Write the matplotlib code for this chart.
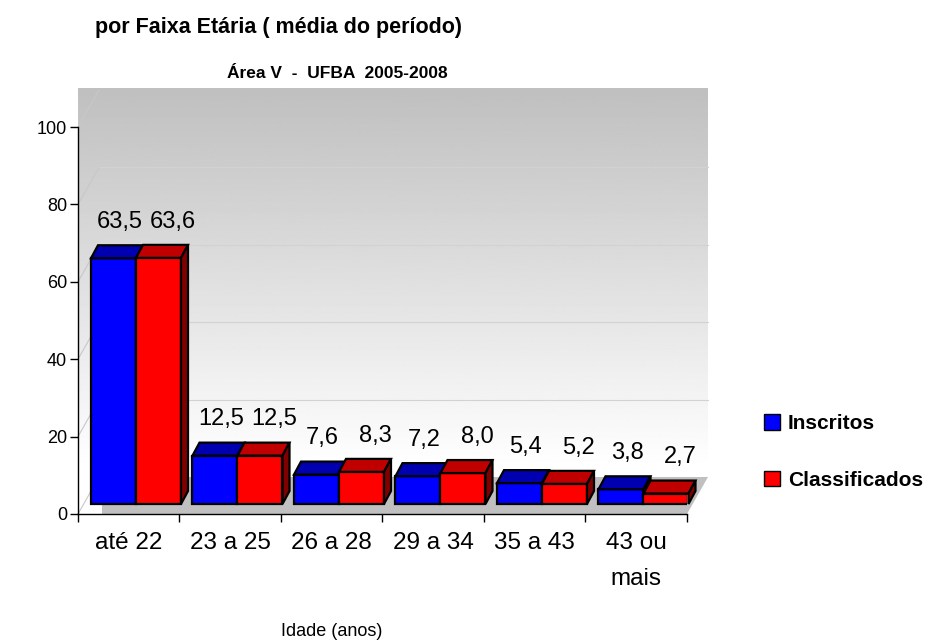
import numpy as np
import matplotlib.pyplot as plt
from matplotlib.patches import Polygon, Patch

plt.rcParams['font.family'] = ['Liberation Sans', 'DejaVu Sans']

# dados (média do período)
categorias = ['até 22', '23 a 25', '26 a 28', '29 a 34', '35 a 43', '43 ou\nmais']
inscritos = [63.5, 12.5, 7.6, 7.2, 5.4, 3.8]
classificados = [63.6, 12.5, 8.3, 8.0, 5.2, 2.7]
yticks = [0, 20, 40, 60, 80, 100]

fig = plt.figure(figsize=(9.29, 6.43), dpi=100)
ax = fig.add_axes([78/929, 129/643, 609/929, 387/643])
ax.set_xlim(0, 6)
ax.set_ylim(0, 100)
ax.patch.set_facecolor('none')

# conversao pixel -> unidades do grafico (efeito 3D)
ux = 6/609
uy = 100/387
DX, DY = 21*ux, 37*uy        # profundidade das paredes
ddx, ddy = 7*ux, 13*uy       # profundidade das barras
base = 10*uy                 # barras no meio do piso
xoff = 13*ux
w = 45*ux

# parede com degrade
ys = np.linspace(100+DY, 0, 300)
g = np.clip(0.75 + 0.25*(100+DY-ys)/(100+DY-12), 0, 1).reshape(-1, 1)
ax.imshow(g, cmap='gray', vmin=0, vmax=1, extent=[0, 6+DX, 0, 100+DY+0.5],
          aspect='auto', origin='upper', zorder=0, clip_on=False, interpolation='bilinear')

# piso
ax.add_patch(Polygon([(24*ux, 0), (6, 0), (6+DX, DY), (24*ux, DY)], closed=True,
                     fc='#c0c0c0', ec='none', zorder=0.5, clip_on=False))

# linhas de grade
for v in yticks:
    ax.plot([0, DX], [v, v+DY], color='#c8c8c8', lw=0.8, zorder=0.6, clip_on=False)
    if 0 < v < 100:
        ax.plot([DX, 6+DX], [v+DY, v+DY], color='#d2d2d2', lw=0.8, zorder=0.6, clip_on=False)

series = [(inscritos, '#0000ff', '#0000b0', '#000080', 0.06),
          (classificados, '#ff0000', '#c00000', '#800000', 0.14)]

for s, (vals, cor, topo, lado, dlab) in enumerate(series):
    xs = np.arange(len(vals)) + xoff + s*w
    bars = ax.bar(xs, vals, width=w, bottom=base, align='edge', color=cor,
                  edgecolor='black', linewidth=1.6)
    for i, (b, v) in enumerate(zip(bars, vals)):
        z = 3 + i + s*0.5
        b.set_zorder(z)
        x0 = b.get_x()
        y1 = base + v
        ax.add_patch(Polygon([(x0, y1), (x0+w, y1), (x0+w+ddx, y1+ddy), (x0+ddx, y1+ddy)],
                             closed=True, fc=topo, ec='black', lw=1.6, zorder=z, clip_on=False))
        ax.add_patch(Polygon([(x0+w, base), (x0+w, y1), (x0+w+ddx, y1+ddy), (x0+w+ddx, base+ddy)],
                             closed=True, fc=lado, ec='black', lw=1.6, zorder=z, clip_on=False))
        ax.text(x0 + w/2 + dlab, y1 + ddy + 6.0, f'{v:.1f}'.replace('.', ','),
                ha='center', va='center', fontsize=17, zorder=20)

# eixos
for sp in ['top', 'right']:
    ax.spines[sp].set_visible(False)
for sp in ['left', 'bottom']:
    ax.spines[sp].set_linewidth(1)
    ax.spines[sp].set_zorder(2)
ax.set_yticks(yticks)
ax.tick_params(axis='y', length=6, width=1, pad=2, labelsize=13)
ax.set_xticks(range(7))
ax.set_xticklabels([])
ax.set_xticks(np.arange(6) + 0.5, minor=True)
ax.set_xticklabels(categorias, minor=True)
ax.tick_params(axis='x', which='major', length=6, width=1)
ax.tick_params(axis='x', which='minor', length=0, pad=13, labelsize=17.5)
for t in ax.get_xticklabels(minor=True):
    t.set_linespacing(1.8)
    t.set_verticalalignment('top')

fig.text(332/929, 1-631/643, 'Idade (anos)', ha='center', va='center', fontsize=13)
fig.text(95/929, 1-28/643, 'por Faixa Etária ( média do período)', ha='left', va='center',
         fontsize=15.5, fontweight='bold')
fig.text(337/929, 1-73/643, 'Área V  -  UFBA  2005-2008', ha='center', va='center',
         fontsize=12.5, fontweight='bold')

handles = [Patch(fc='#0000ff', ec='black'), Patch(fc='#ff0000', ec='black')]
fig.legend(handles, ['Inscritos', 'Classificados'], loc='center left',
           bbox_to_anchor=(745/929, 1-452/643), frameon=False,
           prop=dict(weight='bold', size=15), handlelength=0.77, handleheight=0.77,
           labelspacing=1.8, handletextpad=0.4)

fig.savefig('out.png', dpi=100)
